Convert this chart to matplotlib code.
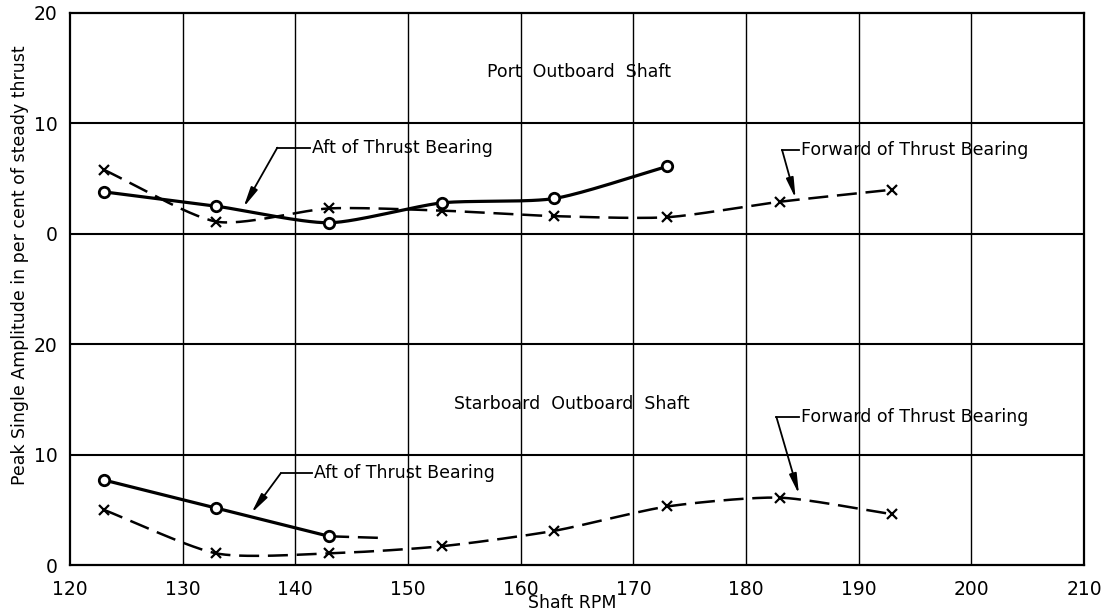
import numpy as np
import matplotlib
matplotlib.use("Agg")
import matplotlib.pyplot as plt

# Shaft RPM at which readings were taken
rpm_aft = [123, 133, 143, 153, 163, 173]
rpm_fwd = [123, 133, 143, 153, 163, 173, 183, 193]
rpm_stbd_aft = [123, 133, 143]

# Peak single amplitude, per cent of steady thrust
port_aft = [3.8, 2.5, 1.0, 2.8, 3.2, 6.1]
port_fwd = [5.8, 1.1, 2.3, 2.1, 1.6, 1.5, 2.9, 4.0]
stbd_aft = [7.7, 5.15, 2.6]
stbd_fwd = [5.0, 1.05, 1.05, 1.7, 3.1, 5.3, 6.1, 4.6]

# faired extension of the starboard aft curve
stbd_aft_ext_rpm = [143, 147.7]
stbd_aft_ext = [2.6, 2.45]

# both panels share one axis; the port panel sits 30 units up
PORT_OFFSET = 30
ytick_pos = [0, 10, 20, 30, 40, 50]
ytick_labels = ["0", "10", "20", "0", "10", "20"]
xticks = list(range(120, 211, 10))


def smooth(xs, ys, tension=0.3, steps=30):
    # cardinal spline through the points, for a hand-faired look
    p = np.column_stack([xs, ys]).astype(float)
    n = len(p)
    m = np.zeros_like(p)
    m[1:-1] = (1 - tension) * (p[2:] - p[:-2]) / 2
    m[0] = (1 - tension) * (p[1] - p[0])
    m[-1] = (1 - tension) * (p[-1] - p[-2])
    t = np.linspace(0, 1, steps, endpoint=False)[:, None]
    h00 = 2 * t ** 3 - 3 * t ** 2 + 1
    h10 = t ** 3 - 2 * t ** 2 + t
    h01 = -2 * t ** 3 + 3 * t ** 2
    h11 = t ** 3 - t ** 2
    out = [h00 * p[i] + h10 * m[i] + h01 * p[i + 1] + h11 * m[i + 1] for i in range(n - 1)]
    out.append(p[-1][None, :])
    out = np.vstack(out)
    return out[:, 0], out[:, 1]


plt.rcParams["font.family"] = "DejaVu Sans"
fig = plt.figure(figsize=(11.04, 6.13), dpi=100)
ax = fig.add_axes([0.0634, 0.0783, 0.9185, 0.9005])

solid = dict(color="black", lw=2.3, solid_capstyle="round")
dashed = dict(color="black", lw=1.8, dashes=(8, 3.5))
circle = dict(ls="none", marker="o", ms=7.5, mfc="white", mec="black", mew=2.0)
cross = dict(ls="none", marker="x", ms=7, mec="black", mew=1.6)

# grid
for x in xticks[1:-1]:
    ax.axvline(x, color="black", lw=1.0, zorder=1)
for y in [10, 20, 30, 40]:
    ax.axhline(y, color="black", lw=1.5, zorder=1)

# port outboard shaft
py_aft = [v + PORT_OFFSET for v in port_aft]
py_fwd = [v + PORT_OFFSET for v in port_fwd]
ax.plot(*smooth(rpm_fwd, py_fwd), **dashed, zorder=2)
ax.plot(*smooth(rpm_aft, py_aft), **solid, zorder=3)
ax.plot(rpm_fwd, py_fwd, **cross, zorder=4)
ax.plot(rpm_aft, py_aft, **circle, zorder=5)

# starboard outboard shaft
ax.plot(*smooth(rpm_fwd, stbd_fwd), **dashed, zorder=2)
ax.plot(stbd_aft_ext_rpm, stbd_aft_ext, **dashed, zorder=2)
ax.plot(rpm_stbd_aft, stbd_aft, **solid, zorder=3)
ax.plot(rpm_fwd, stbd_fwd, **cross, zorder=4)
ax.plot(rpm_stbd_aft, stbd_aft, **circle, zorder=5)

# panel titles
ax.text(165.2, 44.7, "Port  Outboard  Shaft", ha="center", va="center", fontsize=12.5)
ax.text(164.5, 14.6, "Starboard  Outboard  Shaft", ha="center", va="center", fontsize=12.5)

# leader lines with arrows
arrow = dict(arrowstyle="-|>,head_length=1.2,head_width=0.22", color="black",
             lw=1.3, shrinkA=0, shrinkB=0, mutation_scale=10)


def leader(text, text_x, text_y, corner_x, tip_x, tip_y):
    ax.text(text_x, text_y, text, ha="left", va="center", fontsize=12.5)
    ax.plot([corner_x, text_x - 0.2], [text_y, text_y], color="black", lw=1.3)
    ax.annotate("", xy=(tip_x, tip_y), xytext=(corner_x, text_y), arrowprops=arrow)


leader("Aft of Thrust Bearing", 141.5, 37.8, 138.4, 135.4, 32.4)
leader("Forward of Thrust Bearing", 184.9, 37.6, 183.2, 184.4, 33.2)
leader("Aft of Thrust Bearing", 141.7, 8.3, 138.7, 136.1, 4.7)
leader("Forward of Thrust Bearing", 184.9, 13.4, 182.7, 184.7, 6.4)

ax.set_xlim(120, 210)
ax.set_ylim(0, 50)
ax.set_xticks(xticks)
ax.set_yticks(ytick_pos)
ax.set_yticklabels(ytick_labels)
ax.tick_params(length=0, labelsize=13.5)
ax.tick_params(axis="x", pad=11)
ax.tick_params(axis="y", pad=9)
for s in ax.spines.values():
    s.set_linewidth(1.6)

ax.text(164.6, -3.4, "Shaft RPM", ha="center", va="center", fontsize=12.5)
fig.text(0.018, 0.568, "Peak Single Amplitude in per cent of steady thrust",
         rotation=90, ha="center", va="center", fontsize=12.5)

fig.savefig("out.png", dpi=100)
